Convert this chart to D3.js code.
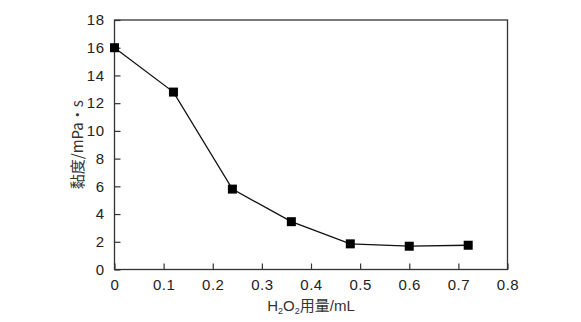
<!DOCTYPE html>
<html>
<head>
<meta charset="utf-8">
<script src="https://cdn.jsdelivr.net/npm/d3@7"></script>
<style>
  html, body { margin: 0; padding: 0; background: #fff; }
  svg { display: block; }
</style>
</head>
<body>
<svg id="chart" width="581" height="322"></svg>
<script>
// H2O2 dosage (mL) vs. viscosity (mPa·s)
const dosage = [0, 0.12, 0.24, 0.36, 0.48, 0.60, 0.72];
const viscosity = [16.0, 12.8, 5.8, 3.45, 1.85, 1.68, 1.75];
const xTicks = [0, 0.1, 0.2, 0.3, 0.4, 0.5, 0.6, 0.7, 0.8];
const yTicks = [0, 2, 4, 6, 8, 10, 12, 14, 16, 18];

const svg = d3.select("#chart");
const plotL = 114.5, plotR = 507.5, plotT = 20, plotB = 269.5;
const ink = "#222";
const font = "'Liberation Sans', Arial, sans-serif";

const x = d3.scaleLinear().domain([0, 0.8]).range([plotL, plotR]);
const y = d3.scaleLinear().domain([0, 18]).range([plotB, plotT]);

// frame
svg.append("rect")
  .attr("x", plotL).attr("y", plotT)
  .attr("width", plotR - plotL).attr("height", plotB - plotT)
  .attr("fill", "none").attr("stroke", "#333").attr("stroke-width", 1.3);

// axes with inward ticks
const xAxis = svg.append("g")
  .attr("transform", `translate(0,${plotB})`)
  .call(d3.axisBottom(x).tickValues(xTicks).tickSizeInner(-6).tickSizeOuter(0)
    .tickFormat(d => d === 0 ? "0" : d3.format(".1f")(d)));
const yAxis = svg.append("g")
  .attr("transform", `translate(${plotL},0)`)
  .call(d3.axisLeft(y).tickValues(yTicks).tickSizeInner(-6).tickSizeOuter(0)
    .tickFormat(d3.format("d")));

[xAxis, yAxis].forEach(g => {
  g.select(".domain").remove();
  g.selectAll(".tick line").attr("stroke", "#333").attr("stroke-width", 1.2);
  g.selectAll(".tick text")
    .attr("fill", ink)
    .style("font-family", font)
    .style("font-size", "15px")
    .style("letter-spacing", "0.5px");
});
xAxis.selectAll(".tick text").attr("y", 10).attr("dy", "0.71em");
yAxis.selectAll(".tick text").attr("x", -10);

// series line
const line = d3.line().x((d, i) => x(dosage[i])).y(d => y(d));
svg.append("path")
  .datum(viscosity)
  .attr("d", line)
  .attr("fill", "none")
  .attr("stroke", "#111")
  .attr("stroke-width", 1.3);

// square markers
const s = 9;
svg.selectAll("rect.pt")
  .data(viscosity)
  .join("rect")
  .attr("class", "pt")
  .attr("x", (d, i) => x(dosage[i]) - s / 2)
  .attr("y", d => y(d) - s / 2)
  .attr("width", s).attr("height", s)
  .attr("fill", "#000");

// x-axis title
const xt = svg.append("text")
  .attr("x", (plotL + plotR) / 2)
  .attr("y", 311)
  .attr("text-anchor", "middle")
  .attr("fill", "#333")
  .style("font-family", font)
  .style("font-size", "15px");
xt.append("tspan").text("H");
xt.append("tspan").attr("dy", 3).style("font-size", "9px").text("2");
xt.append("tspan").attr("dy", -3).text("O");
xt.append("tspan").attr("dy", 3).style("font-size", "9px").text("2");
xt.append("tspan").attr("dy", -3).style("font-family", "'Noto Sans CJK SC', sans-serif").text("用量");
xt.append("tspan").text("/mL");

// y-axis title
svg.append("text")
  .attr("transform", `translate(83,${(plotT + plotB) / 2}) rotate(-90)`)
  .attr("text-anchor", "middle")
  .attr("fill", "#333")
  .style("font-family", "'Noto Sans CJK SC', " + font)
  .style("font-size", "15px")
  .text("黏度/mPa・s");
</script>
</body>
</html>
